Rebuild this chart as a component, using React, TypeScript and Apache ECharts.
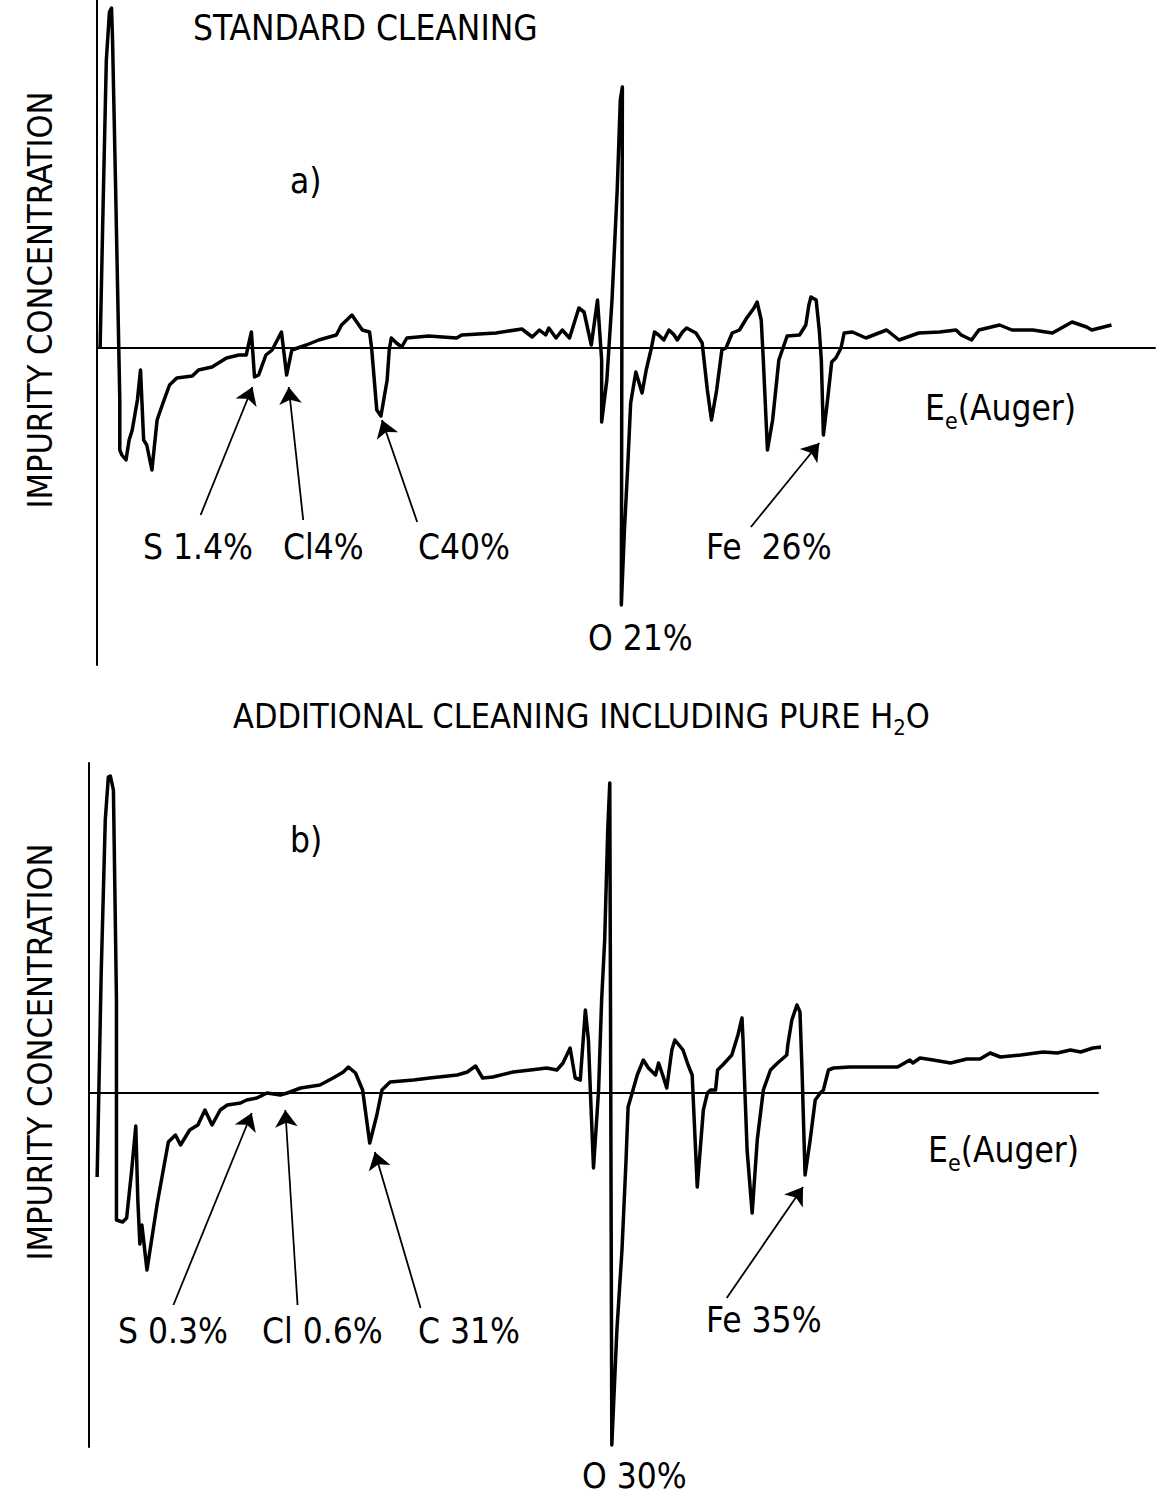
import React, { useEffect, useRef } from "react";
import * as echarts from "echarts";

// ---------- DATA (energy in eV, signal dN/dE in arbitrary units) ----------
// Panel a) standard cleaning
const topEnergy = [
  3, 6, 9, 12, 14, 15, 18, 22, 22, 24, 28, 31, 34, 39, 42, 45, 48, 53, 58, 63, 70, 77, 92, 98, 111, 125, 137, 144,
  149, 152, 156, 163, 169, 178, 183, 188, 202, 214, 231, 236, 246, 256, 263, 265, 270, 274, 280, 282, 284, 289, 294,
  299, 320, 347, 352, 385, 410, 420, 427, 433, 436, 443, 449, 456, 465, 470, 477, 483, 487, 487, 492, 497, 502, 505,
  507, 506, 509, 512, 515, 520, 526, 530, 535, 538, 542, 547, 552, 557, 560, 565, 569, 578, 584, 589, 593, 598, 603,
  607, 613, 620, 627, 634, 637, 641, 643, 647, 652, 658, 666, 678, 684, 687, 689, 694, 697, 699, 701, 705, 709, 713,
  718, 721, 729, 742, 762, 774, 793, 813, 829, 834, 844, 851, 871, 883, 903, 922, 941, 955, 960, 979,
];
const topSignal = [
  0, 148, 288, 336, 340, 308, 158, -52, -102, -107, -112, -92, -82, -52, -22, -92, -97, -122, -72, -57, -37, -30, -28,
  -22, -19, -10, -7, -7, 16, -29, -27, -7, -2, 16, -27, -2, 3, 8, 13, 23, 33, 18, 16, 0, -62, -68, -32, -2, 10, 5, 1,
  10, 12, 10, 13, 15, 19, 11, 18, 13, 20, 10, 18, 10, 40, 36, 3, 48, -12, -74, -32, 48, 158, 248, 261, -257, -182,
  -122, -55, -24, -45, -22, 0, 16, 13, 8, 18, 13, 8, 16, 20, 15, 5, -42, -72, -42, -2, 0, 15, 18, 30, 40, 46, 28, -12,
  -102, -72, -12, 12, 13, 23, 43, 51, 48, 18, -12, -87, -52, -14, -10, 0, 15, 16, 10, 18, 8, 15, 16, 18, 13, 8, 18, 23,
  18, 18, 15, 26, 21, 18, 23,
];

// Panel b) additional cleaning including pure H2O
const bottomEnergy = [
  4, 8, 12, 15, 17, 20, 23, 23, 29, 33, 38, 42, 44, 46, 48, 53, 63, 74, 81, 86, 95, 103, 110, 117, 125, 132, 145, 151,
  161, 171, 184, 191, 204, 223, 236, 246, 251, 258, 265, 272, 279, 284, 292, 315, 331, 358, 368, 376, 383, 393, 413,
  430, 446, 456, 462, 469, 474, 479, 484, 487, 489, 492, 497, 500, 503, 506, 508, 509, 510, 515, 520, 524, 526, 530,
  535, 541, 546, 553, 556, 560, 564, 569, 572, 580, 585, 589, 594, 600, 604, 607, 612, 614, 619, 628, 634, 638, 639,
  643, 648, 653, 659, 666, 673, 682, 683, 687, 692, 695, 697, 700, 705, 710, 715, 718, 723, 728, 744, 757, 791, 803,
  806, 813, 826, 843, 859, 872, 882, 892, 912, 934, 948, 961, 971, 983, 992,
];
const bottomSignal = [
  -84, 120, 273, 316, 317, 303, 93, -127, -129, -125, -77, -33, -107, -151, -132, -177, -111, -49, -42, -52, -37, -32,
  -17, -32, -17, -12, -10, -7, -5, 0, -2, 0, 5, 8, 15, 21, 26, 20, 3, -50, -22, 3, 11, 13, 15, 18, 21, 27, 15, 16, 21,
  23, 25, 23, 30, 45, 15, 13, 83, 53, 0, -75, 3, 93, 153, 263, 310, -7, -352, -237, -157, -67, -14, 0, 18, 33, 25, 18,
  30, 18, 5, 43, 53, 43, 28, 18, -94, -17, 0, 3, 3, 23, 28, 38, 58, 75, 53, -57, -120, -47, 3, 23, 30, 38, 48, 73, 88,
  81, 23, -82, -47, -7, 0, 3, 23, 25, 26, 26, 26, 33, 30, 35, 33, 30, 34, 34, 40, 36, 38, 41, 40, 43, 41, 45, 46,
];

// Annotation arrows: [tailEnergy, tailSignal, headEnergy, headSignal]
const topArrows = [
  [100, -167, 150, -39],
  [199, -172, 185, -39],
  [309, -174, 275, -72],
  [631, -179, 697, -95],
];
const bottomArrows = [
  [79, -212, 156, -20],
  [201, -212, 189, -17],
  [322, -215, 277, -59],
  [623, -205, 698, -94],
];

// Texts
const topTitle = "STANDARD CLEANING";
const bottomTitleMain = "ADDITIONAL CLEANING INCLUDING PURE H";
const yAxisName = "IMPURITY CONCENTRATION";
const topLabels = ["S 1.4%", "Cl4%", "C40%", "Fe  26%", "O 21%"];
const bottomLabels = ["S 0.3%", "Cl 0.6%", "C 31%", "Fe 35%", "O 30%"];

// ---------- STYLE / LAYOUT ----------
const FONT = "'DejaVu Sans Condensed', 'Liberation Sans Narrow', 'DejaVu Sans', sans-serif";
const FS = 35;

function zip(xs: number[], ys: number[]) {
  return xs.map((x, i) => [x, ys[i]]);
}

function arrowLines(arr: number[][]) {
  return arr.map((a) => [
    { coord: [a[0], a[1]], symbol: "none" },
    { coord: [a[2], a[3]], symbol: "arrow" },
  ]);
}

function txt(text: string, x: number, y: number, extra: any = {}) {
  return {
    type: "text",
    x,
    y,
    silent: true,
    style: {
      text,
      fill: "#000",
      fontFamily: FONT,
      fontSize: FS,
      align: "left",
      verticalAlign: "middle",
      ...extra,
    },
  };
}

function richLabel(parts: string, x: number, y: number, lh: number, fs: number) {
  return {
    type: "text",
    x,
    y,
    silent: true,
    style: {
      text: parts,
      fill: "#000",
      fontFamily: FONT,
      fontSize: fs,
      align: "left",
      verticalAlign: "middle",
      rich: {
        m: { fontFamily: FONT, fontSize: fs, lineHeight: lh, verticalAlign: "middle", fill: "#000" },
        s: { fontFamily: FONT, fontSize: Math.round(fs * 0.66), lineHeight: lh, verticalAlign: "bottom", fill: "#000" },
      },
    },
  };
}

const axisLineStyle = { color: "#000", width: 2 };

function xAxisDef(gridIndex: number, min: number, max: number) {
  return {
    type: "value",
    gridIndex,
    min,
    max,
    axisLine: { show: true, onZero: true, lineStyle: axisLineStyle },
    axisTick: { show: false },
    axisLabel: { show: false },
    splitLine: { show: false },
  };
}
function yAxisDef(gridIndex: number, min: number, max: number) {
  return {
    type: "value",
    gridIndex,
    min,
    max,
    axisLine: { show: true, onZero: false, lineStyle: axisLineStyle },
    axisTick: { show: false },
    axisLabel: { show: false },
    splitLine: { show: false },
  };
}

function spectrum(xIdx: number, data: number[][], arrows: number[][]) {
  return {
    type: "line",
    xAxisIndex: xIdx,
    yAxisIndex: xIdx,
    data,
    showSymbol: false,
    symbol: "none",
    clip: false,
    lineStyle: { color: "#000", width: 3.5, join: "round" },
    silent: true,
    markLine: {
      silent: true,
      symbolSize: 17,
      label: { show: false },
      lineStyle: { color: "#000", width: 1.8, type: "solid" },
      emphasis: { disabled: true },
      data: arrowLines(arrows),
    },
  };
}

export default function App() {
  const ref = useRef<HTMLDivElement>(null);

  useEffect(() => {
    if (!ref.current) return;
    const chart = echarts.init(ref.current, null, { renderer: "svg", width: 1160, height: 1495 });
    const option: any = {
      animation: false,
      backgroundColor: "#fff",
      grid: [
        { left: 97, right: 5, top: 0, bottom: 830 },
        { left: 89, right: 62, top: 763, bottom: 48 },
      ],
      xAxis: [xAxisDef(0, 0, 1021), xAxisDef(1, -4, 988)],
      yAxis: [yAxisDef(0, -317, 348), yAxisDef(1, -354, 330)],
      series: [
        spectrum(0, zip(topEnergy, topSignal), topArrows),
        spectrum(1, zip(bottomEnergy, bottomSignal), bottomArrows),
      ],
      graphic: [
        txt(topTitle, 193, 28),
        txt("a)", 290, 181),
        txt(yAxisName, 40, 300, { align: "center", fontSize: 34 }),
        richLabel("{m|E}{s|e}{m|(Auger)}", 925, 408, 48, FS),
        txt(topLabels[0], 143, 547),
        txt(topLabels[1], 283, 547),
        txt(topLabels[2], 418, 547),
        txt(topLabels[3], 706, 547),
        txt(topLabels[4], 588, 638),

        richLabel("{m|" + bottomTitleMain + "}{s|2}{m|O}", 233, 716, 44, 34),
        txt("b)", 290, 840),
        txt(yAxisName, 40, 1052, { align: "center", fontSize: 34 }),
        richLabel("{m|E}{s|e}{m|(Auger)}", 928, 1150, 48, FS),
        txt(bottomLabels[0], 118, 1331),
        txt(bottomLabels[1], 262, 1331),
        txt(bottomLabels[2], 418, 1331),
        txt(bottomLabels[3], 706, 1320),
        txt(bottomLabels[4], 582, 1476),
      ].map((g: any) =>
        g.style && g.style.text === yAxisName ? { ...g, rotation: Math.PI / 2 } : g
      ),
    };
    chart.setOption(option);
    return () => chart.dispose();
  }, []);

  return (
    <div
      ref={ref}
      style={{ position: "absolute", left: 0, top: 0, width: 1160, height: 1495, background: "#fff" }}
    />
  );
}
